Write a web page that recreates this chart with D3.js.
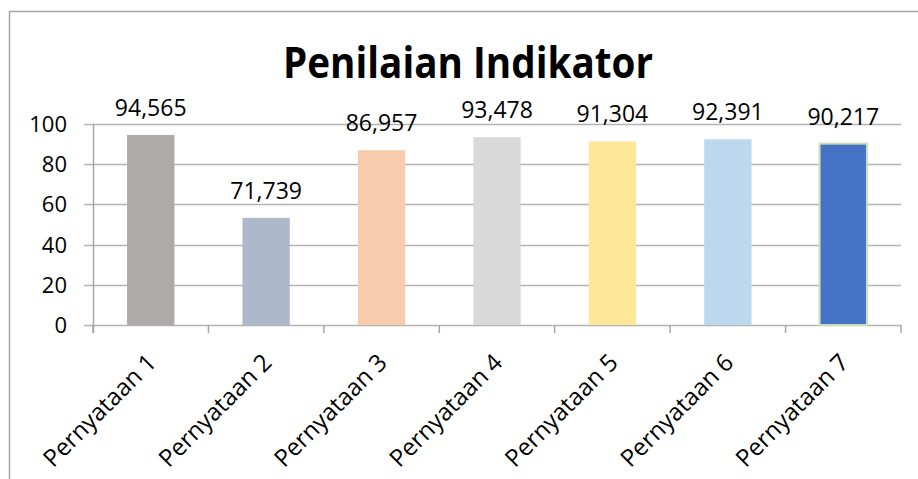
<!DOCTYPE html>
<html>
<head>
<meta charset="utf-8">
<script src="https://cdn.jsdelivr.net/npm/d3@7"></script>
<style>
  body { margin: 0; background: #fff; }
  svg { display: block; font-family: "Open Sans", sans-serif; }
</style>
</head>
<body>
<svg id="drawing_region"></svg>
<script>
const categories = ['Pernyataan 1', 'Pernyataan 2', 'Pernyataan 3', 'Pernyataan 4', 'Pernyataan 5', 'Pernyataan 6', 'Pernyataan 7'];
// bar heights as drawn in the picture (bar 2 is drawn lower than its label says)
const values = [94.565, 53.3, 86.957, 93.478, 91.304, 92.391, 90.217];
const valueLabels = ['94,565', '71,739', '86,957', '93,478', '91,304', '92,391', '90,217'];
const yTicks = [0, 20, 40, 60, 80, 100];
const colors = ['#aeaaaa', '#adb9ca', '#f8cbad', '#d9d9d9', '#ffe699', '#bdd7ee', '#4472c4'];

const config = {
    width: 918,
    height: 479,
    margin: {top: 124, right: 17, bottom: 154, left: 93}
};

const svg = d3.select('#drawing_region')
    .attr('width', config.width)
    .attr('height', config.height);

// chart area border (only left & top visible)
svg.append('rect')
    .attr('x', 9.5).attr('y', 11.5)
    .attr('width', 940).attr('height', 500)
    .attr('fill', 'none')
    .attr('stroke', '#a6a6a6')
    .attr('stroke-width', 1.5);

const inner_width = config.width - config.margin.left - config.margin.right;
const inner_height = config.height - config.margin.top - config.margin.bottom;

const chart = svg.append('g')
    .attr('transform', `translate(${config.margin.left}, ${config.margin.top})`);

const xscale = d3.scaleBand()
    .domain(categories)
    .range([0, inner_width])
    .paddingInner(0.59)
    .paddingOuter(0.295);

const xgrid = d3.scaleBand().domain(categories).range([0, inner_width]);

const yscale = d3.scaleLinear()
    .domain([0, 100])
    .range([inner_height, 0]);

// gridlines
chart.append('g')
    .selectAll('line')
    .data(yTicks)
    .join('line')
    .attr('x1', -9)
    .attr('x2', inner_width)
    .attr('y1', d => Math.round(yscale(d)) + 0.5)
    .attr('y2', d => Math.round(yscale(d)) + 0.5)
    .attr('stroke', '#b3b3b3')
    .attr('stroke-width', 1.5);

// y axis line
chart.append('line')
    .attr('x1', 0.5).attr('x2', 0.5)
    .attr('y1', 0).attr('y2', inner_height + 8)
    .attr('stroke', '#a6a6a6')
    .attr('stroke-width', 1.5);

// y tick labels
chart.append('g')
    .selectAll('text')
    .data(yTicks)
    .join('text')
    .attr('x', -26)
    .attr('y', d => yscale(d))
    .attr('dy', '0.36em')
    .attr('text-anchor', 'end')
    .attr('font-size', 22)
    .attr('fill', '#000')
    .text(d => d);

// x category tick marks
const xbounds = categories.map(c => xgrid(c)).concat([inner_width]);
chart.append('g')
    .selectAll('line')
    .data(xbounds)
    .join('line')
    .attr('x1', d => d)
    .attr('x2', d => d)
    .attr('y1', inner_height)
    .attr('y2', inner_height + 8)
    .attr('stroke', '#a6a6a6')
    .attr('stroke-width', 1.5);

// bars
chart.append('g')
    .selectAll('rect')
    .data(values)
    .join('rect')
    .attr('x', (d, i) => xscale(categories[i]))
    .attr('y', d => yscale(d))
    .attr('width', xscale.bandwidth())
    .attr('height', d => inner_height - yscale(d))
    .attr('fill', (d, i) => colors[i])
    .attr('stroke', (d, i) => i === 6 ? '#c5e0b4' : 'none')
    .attr('stroke-width', 2);

// value labels
chart.append('g')
    .selectAll('text')
    .data(values)
    .join('text')
    .attr('x', (d, i) => xscale(categories[i]) + xscale.bandwidth() / 2)
    .attr('y', d => yscale(d) - 19)
    .attr('text-anchor', 'middle')
    .attr('font-size', 23)
    .attr('fill', '#000')
    .text((d, i) => valueLabels[i]);

// category labels
chart.append('g')
    .selectAll('text')
    .data(categories)
    .join('text')
    .attr('transform', d => `translate(${xgrid(d) + xgrid.bandwidth() / 2 + 7}, ${inner_height + 39}) rotate(-45)`)
    .attr('text-anchor', 'end')
    .attr('font-size', 24)
    .attr('fill', '#000')
    .text(d => d);

// title
svg.append('text')
    .attr('x', 468)
    .attr('y', 78)
    .attr('text-anchor', 'middle')
    .attr('font-size', 43)
    .attr('font-weight', 'bold')
    .attr('textLength', 370)
    .attr('lengthAdjust', 'spacingAndGlyphs')
    .attr('fill', '#000')
    .text('Penilaian Indikator');
</script>
</body>
</html>
